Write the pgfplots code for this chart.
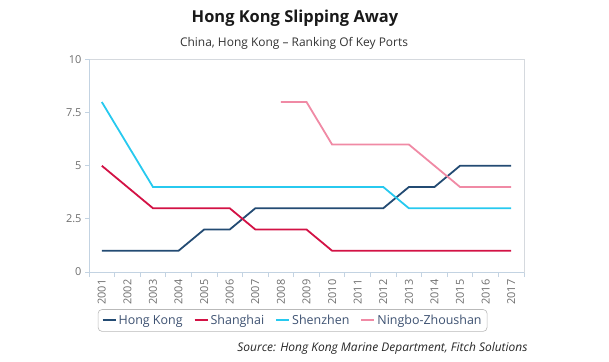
\documentclass[border=0pt]{standalone}
\usepackage{pgfplots}
\pgfplotsset{compat=1.18}
\usepackage{fontspec}
\setmainfont{Open Sans}
\definecolor{hk}{HTML}{234B73}
\definecolor{sh}{HTML}{D31245}
\definecolor{sz}{HTML}{27C9EF}
\definecolor{nb}{HTML}{F08AA5}
\definecolor{axgray}{HTML}{D5D9DE}
\definecolor{axblue}{HTML}{C3D3E2}
\definecolor{ticktxt}{HTML}{6E6E6E}
\definecolor{legtxt}{HTML}{3E5272}
\begin{document}
\begin{tikzpicture}[x=1bp,y=1bp]
\path[use as bounding box] (0,0) rectangle (609,361);
\begin{axis}[
  at={(89bp,89bp)}, anchor=south west,
  scale only axis, width=435bp, height=212.5bp,
  xmin=-0.5, xmax=16.5, ymin=0, ymax=10,
  xtick={0,...,16},
  xticklabels={2001,2002,2003,2004,2005,2006,2007,2008,2009,2010,2011,2012,2013,2014,2015,2016,2017},
  minor xtick={-0.5,0.5,...,16.5},
  major x tick style={draw=none},
  minor x tick style={draw=axblue, line width=0.8bp},
  minor tick length=5bp,
  xtick pos=bottom, ytick pos=left,
  tick align=outside,
  x tick label style={rotate=90, anchor=east, font=\fontsize{11}{13}\selectfont, text=ticktxt},
  ytick={0,2.5,5,7.5,10},
  yticklabels={0,2.5,5,7.5,10},
  major y tick style={draw=axblue, line width=0.8bp},
  major tick length=4bp,
  y tick label style={font=\fontsize{11}{13}\selectfont, text=ticktxt},
  axis line style={draw=axgray, line width=0.8bp},
  /pgf/number format/assume math mode=true,
  legend columns=-1,
  legend style={at={(0.468,-0.228)}, anchor=center, draw=gray!55, rounded corners=4bp,
    font=\fontsize{12.5}{14}\selectfont, text=legtxt, line width=0.6bp,
    /tikz/every even column/.append style={column sep=9bp}, inner sep=3.5bp},
  legend image code/.code={\draw[#1, line width=2bp] (0bp,0bp) -- (13bp,0bp);},
  clip=false,
]
\draw[axblue, line width=0.9bp] (rel axis cs:0,0) -- (rel axis cs:1,0);
\draw[axblue, line width=0.9bp] (rel axis cs:0,0) -- (rel axis cs:0,1);
\addplot[hk, line width=1.8bp] coordinates {(0,1)(1,1)(2,1)(3,1)(4,2)(5,2)(6,3)(7,3)(8,3)(9,3)(10,3)(11,3)(12,4)(13,4)(14,5)(15,5)(16,5)};
\addlegendentry{Hong Kong}
\addplot[sh, line width=1.8bp] coordinates {(0,5)(1,4)(2,3)(3,3)(4,3)(5,3)(6,2)(7,2)(8,2)(9,1)(10,1)(11,1)(12,1)(13,1)(14,1)(15,1)(16,1)};
\addlegendentry{Shanghai}
\addplot[sz, line width=1.8bp] coordinates {(0,8)(1,6)(2,4)(3,4)(4,4)(5,4)(6,4)(7,4)(8,4)(9,4)(10,4)(11,4)(12,3)(13,3)(14,3)(15,3)(16,3)};
\addlegendentry{Shenzhen}
\addplot[nb, line width=1.8bp] coordinates {(7,8)(8,8)(9,6)(10,6)(11,6)(12,6)(13,5)(14,4)(15,4)(16,4)};
\addlegendentry{Ningbo-Zhoushan}
\end{axis}
\node[font=\fontsize{16.5}{19}\selectfont\bfseries, text=black!90] at (295,343) {Hong Kong Slipping Away};
\node[font=\fontsize{12}{14}\selectfont, text=black!80] at (294,318) {China, Hong Kong -- Ranking Of Key Ports};
\node[font=\fontsize{12}{14}\selectfont\itshape, text=black!85, anchor=east] at (531,13) {Source: Hong Kong Marine Department, Fitch Solutions};
\end{tikzpicture}
\end{document}
